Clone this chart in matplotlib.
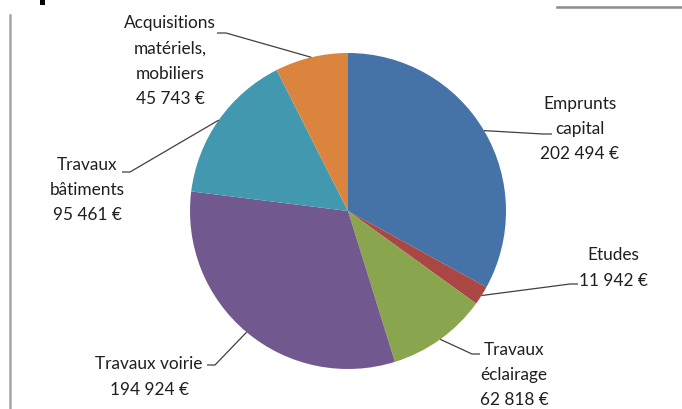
import numpy as np
import matplotlib.pyplot as plt
from matplotlib.patches import Rectangle

W, H = 682, 409

# données
labels = ["Emprunts\ncapital", "Etudes", "Travaux\néclairage", "Travaux voirie",
          "Travaux\nbâtiments", "Acquisitions\nmatériels,\nmobiliers"]
values = [202494, 11942, 62818, 194924, 95461, 45743]
colors = ["#4572A7", "#AA4643", "#89A54E", "#71588F", "#4198AF", "#DB843D"]

# mise en page (pixels, y depuis le haut)
cx, cy, R = 348, 211, 158
text_pos = [(580, 129), (613, 268), (514, 375), (149, 377), (87, 190), (170, 61)]
elbows = [((543, 134), (552, 134)), ((570, 284), (578, 284)), ((472, 354), (480, 354)),
          ((215, 365), (207, 365)), ((130, 172), (122, 172)), ((226, 33), (217, 33))]

plt.rcParams['font.family'] = ['Lato', 'DejaVu Sans']

fig = plt.figure(figsize=(W / 100, H / 100), dpi=100)
ax = fig.add_axes([0, 0, 1, 1])

ax.pie(values, colors=colors, startangle=90, counterclock=False,
       center=(cx, H - cy), radius=R, wedgeprops=dict(linewidth=0))
ax.set_xlim(0, W)
ax.set_ylim(0, H)
ax.set_aspect('equal')
ax.axis('off')

total = sum(values)
cum = np.cumsum([0] + values) / total
for i, (lab, v) in enumerate(zip(labels, values)):
    mid = (cum[i] + cum[i + 1]) / 2 * 2 * np.pi
    x0 = cx + R * np.sin(mid)
    y0 = cy - R * np.cos(mid)
    (ex, ey), (tx, ty) = elbows[i]
    ax.plot([x0, ex, tx], [H - y0, H - ey, H - ty], color="#404040", lw=0.9,
            solid_capstyle='butt')
    txt = lab + "\n" + f"{v:,}".replace(",", " ") + " €"
    px, py = text_pos[i]
    ax.text(px, H - py, txt, ha='center', va='center', fontsize=12.4,
            color="#1F1F1F", linespacing=1.72, multialignment='center')

# restes du cadre / titre coupé
ax.plot([10, 10], [H - 15, 0], color="#A6A6A6", lw=1.8)
ax.plot([557, W], [H - 7, H - 7], color="#8C8C8C", lw=1.8)
ax.add_patch(Rectangle((40, H - 5), 5, 5, color='black', lw=0))

fig.savefig("out.png", dpi=100)
